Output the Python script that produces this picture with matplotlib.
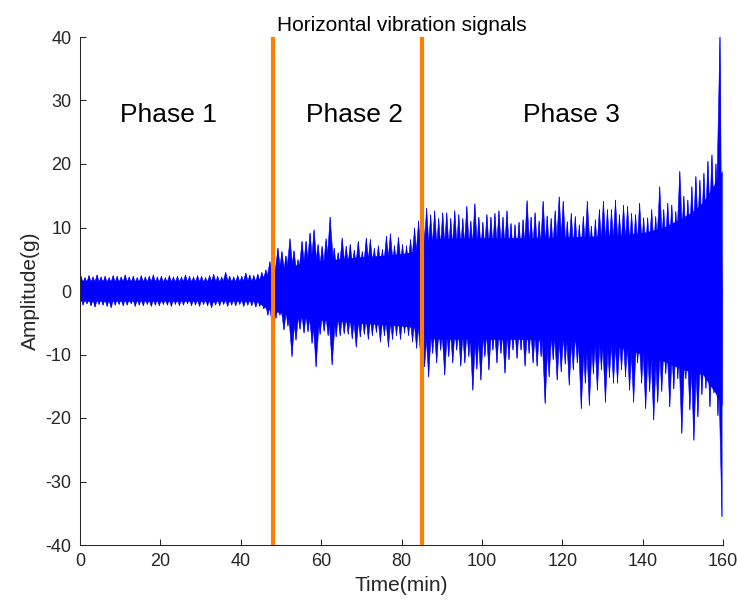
import numpy as np
import matplotlib
matplotlib.use("Agg")
import matplotlib.pyplot as plt
from matplotlib.collections import PolyCollection

plt.rcParams['font.family'] = ['Liberation Sans', 'DejaVu Sans']

# ---- data ----
# peak (upper) amplitude in each minute, t = 0..159
upper_peaks = [
    2.3, 2.1, 2.4, 2.2, 2.5, 2.2, 2.3, 2.1, 2.4, 2.3,
    2.2, 2.5, 2.2, 2.3, 2.1, 2.4, 2.2, 2.3, 2.5, 2.2,
    2.3, 2.1, 2.4, 2.2, 2.3, 2.2, 2.5, 2.3, 2.2, 2.4,
    2.3, 2.1, 2.4, 2.6, 2.3, 2.2, 2.9, 2.3, 2.2, 2.4,
    2.3, 2.8, 2.5, 2.4, 2.6, 2.9, 3.3, 4.6, 4.4, 6.7,
    6.2, 5.5, 8.2, 6.3, 4.9, 7.8, 7.8, 9.1, 9.6, 7.3,
    7.0, 8.2, 11.6, 6.7, 6.0, 8.3, 7.0, 7.3, 6.4, 7.8,
    6.2, 8.3, 8.1, 6.7, 7.1, 6.5, 8.6, 9.0, 7.1, 8.4,
    7.3, 7.1, 8.1, 9.9, 11.0, 13.3, 13.0, 12.0, 12.6, 11.4,
    12.3, 12.3, 11.4, 12.6, 12.0, 11.4, 13.3, 11.0, 13.7, 11.6,
    10.8, 12.0, 11.6, 12.2, 12.6, 11.6, 12.6, 10.6, 10.4, 10.8,
    11.2, 14.2, 11.6, 12.3, 11.0, 14.1, 11.8, 11.4, 12.6, 14.8,
    14.1, 10.9, 12.2, 11.7, 10.4, 11.7, 14.1, 10.2, 11.2, 12.8,
    14.1, 12.8, 12.8, 14.3, 12.0, 13.5, 13.3, 12.2, 12.0, 13.8,
    11.5, 11.5, 12.8, 11.7, 16.4, 12.8, 13.8, 13.5, 12.5, 18.8,
    14.9, 14.3, 16.4, 18.0, 17.4, 18.5, 20.4, 21.4, 20.0, 40.0,
]
# trough (lower) amplitude in each minute, t = 0..159
lower_peaks = [
    -2.2, -2.0, -2.3, -2.5, -2.1, -2.2, -2.4, -2.6, -2.2, -2.1,
    -2.3, -2.2, -2.0, -2.4, -2.2, -2.3, -2.1, -2.4, -2.2, -2.3,
    -2.1, -2.2, -2.4, -2.1, -2.3, -2.2, -2.0, -2.3, -2.2, -2.4,
    -2.1, -2.3, -2.6, -2.2, -2.3, -2.1, -2.4, -2.2, -2.3, -2.1,
    -2.4, -2.2, -2.3, -2.5, -2.4, -2.8, -3.8, -4.8, -4.3, -3.8,
    -6.1, -5.5, -10.3, -7.7, -6.0, -6.6, -6.4, -8.2, -11.9, -6.8,
    -6.3, -7.0, -11.6, -7.2, -7.0, -6.7, -6.8, -7.5, -8.8, -7.2,
    -6.8, -7.6, -7.0, -6.5, -8.0, -7.0, -8.8, -7.6, -7.0, -7.6,
    -6.6, -7.0, -8.0, -9.0, -10.0, -11.9, -13.5, -9.8, -11.3, -9.3,
    -13.2, -10.3, -11.3, -9.3, -11.8, -11.3, -10.3, -15.6, -12.3, -14.0,
    -10.3, -12.4, -9.3, -11.3, -9.8, -12.9, -10.8, -9.3, -10.6, -9.3,
    -11.8, -9.8, -11.3, -11.8, -10.3, -17.7, -13.5, -10.8, -14.0, -12.7,
    -11.5, -14.8, -12.4, -11.3, -18.5, -14.5, -18.0, -13.0, -15.6, -12.4,
    -17.5, -13.6, -14.5, -14.5, -12.4, -13.5, -15.6, -17.5, -11.3, -14.5,
    -18.5, -15.8, -20.3, -17.5, -15.8, -13.0, -18.2, -15.4, -13.8, -22.4,
    -13.8, -18.7, -23.5, -19.8, -16.3, -15.3, -18.2, -16.0, -19.6, -35.5,
]
# dense core of the signal (solid band)
core_time = [0, 44, 46, 48, 50, 55, 60, 65, 70, 75, 80, 84, 85, 90, 100,
             110, 120, 130, 135, 140, 145, 150, 153, 155, 158, 159.8]
core_hi = [1.7, 1.7, 2.6, 3.3, 3.5, 4.3, 4.8, 5.1, 5.4, 5.6, 5.9, 6.3, 8.0, 8.3, 8.4,
           8.4, 8.5, 8.7, 8.9, 9.2, 10.0, 11.6, 12.8, 14.0, 17.0, 19.0]
core_lo = [-1.6, -1.6, -2.6, -3.1, -3.5, -4.2, -4.6, -4.8, -5.1, -5.3, -5.5, -5.8, -7.4, -7.6, -7.6,
           -7.6, -7.8, -8.3, -9.0, -10.0, -11.0, -12.4, -12.8, -13.2, -16.0, -18.0]

phase_bounds = [48, 85]
phase_labels = ["Phase 1", "Phase 2", "Phase 3"]
phase_label_x = [22.1, 68.4, 122.4]
phase_label_y = 27.7

xticks = [0, 20, 40, 60, 80, 100, 120, 140, 160]
yticks = [-40, -30, -20, -10, 0, 10, 20, 30, 40]

# ---- figure ----
fig = plt.figure(figsize=(7.38, 6.03), dpi=100)
ax = fig.add_axes([80 / 738, 1 - 545 / 603, (723 - 80) / 738, (545 - 37) / 603])

blue = '#0000FF'
ax.fill_between(core_time, core_lo, core_hi, color=blue, linewidth=0, zorder=2)

# each oscillation peak drawn as a wedge rising out of the dense core
half = 1.3
polys = []
for k, (u, l) in enumerate(zip(upper_peaks, lower_peaks)):
    tu = k + 0.25
    tl = k + 0.75
    polys.append([(max(tu - half, 0.0), 0.0), (tu, u), (min(tu + half, 159.8), 0.0)])
    polys.append([(max(tl - half, 0.0), 0.0), (tl, l), (min(tl + half, 159.8), 0.0)])
pc = PolyCollection(polys, facecolors=blue, edgecolors=blue, linewidths=0.4, zorder=2)
ax.add_collection(pc)

# thin trace through the peaks (spike tips)
minutes = np.arange(len(upper_peaks))
t_sig = np.empty(2 * len(minutes))
y_sig = np.empty(2 * len(minutes))
t_sig[0::2] = minutes + 0.25
t_sig[1::2] = minutes + 0.75
y_sig[0::2] = upper_peaks
y_sig[1::2] = lower_peaks
ax.plot(t_sig, y_sig, color=blue, linewidth=0.6, zorder=2)

for b in phase_bounds:
    ax.axvline(b, color='#FF8000', linewidth=3.0, zorder=3)

for lbl, x in zip(phase_labels, phase_label_x):
    ax.text(x, phase_label_y, lbl, fontsize=19, ha='center', va='center', color='black')

ax.set_xlim(0, 160)
ax.set_ylim(-40, 40)
ax.set_xticks(xticks)
ax.set_yticks(yticks)
ax.set_xticklabels([str(v) for v in xticks])
ax.set_yticklabels([str(v) for v in yticks])

for s in ['top', 'right']:
    ax.spines[s].set_visible(False)
for s in ['left', 'bottom']:
    ax.spines[s].set_color('#262626')
    ax.spines[s].set_linewidth(0.75)
ax.tick_params(direction='in', length=4, width=0.75, colors='#262626',
               labelsize=13, pad=6)

ax.set_xlabel('Time(min)', fontsize=15, color='#262626', labelpad=4)
ax.set_ylabel('Amplitude(g)', fontsize=15, color='#262626', labelpad=4)
ax.set_title('Horizontal vibration signals', fontsize=15, color='black', pad=4)

fig.savefig('out.png', dpi=100)
